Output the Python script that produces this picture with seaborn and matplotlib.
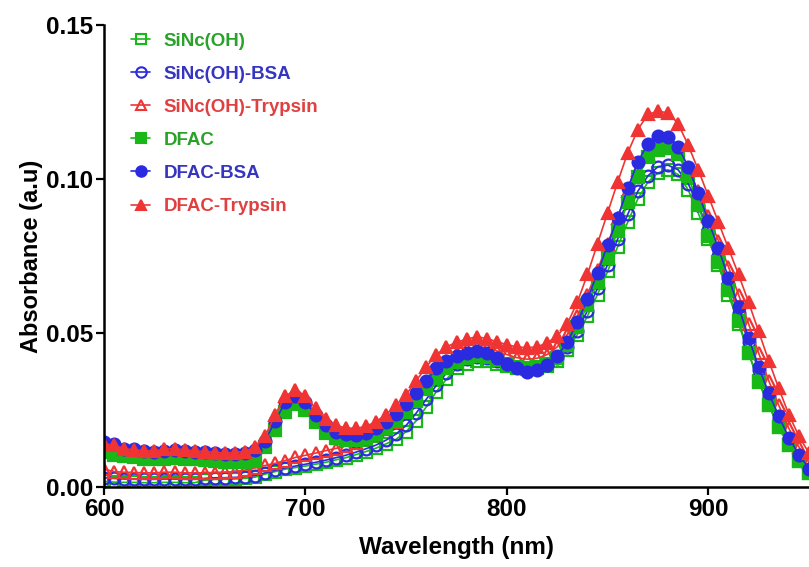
import numpy as np
import pandas as pd
import matplotlib
matplotlib.use("Agg")
import matplotlib.pyplot as plt
import seaborn as sns
from matplotlib.lines import Line2D

wavelength = list(range(600, 951, 5))

sinc_oh = [0.0018, 0.0016, 0.0015, 0.0015, 0.0014, 0.0014, 0.0015, 0.0015, 0.0014, 0.0014,
           0.0022, 0.0025, 0.0025, 0.0026, 0.0028, 0.0032, 0.0042, 0.0050, 0.0058, 0.0063,
           0.0068, 0.0074, 0.0080, 0.0088, 0.0095, 0.0105, 0.0115, 0.0126, 0.0140, 0.0155,
           0.0180, 0.0215, 0.0260, 0.0310, 0.0350, 0.0385, 0.0400, 0.0410, 0.0410, 0.0400,
           0.0392, 0.0385, 0.0382, 0.0385, 0.0392, 0.0410, 0.0445, 0.0495, 0.0555, 0.0625,
           0.0700, 0.0780, 0.0860, 0.0935, 0.0990, 0.1020, 0.1030, 0.1015, 0.0965, 0.0890,
           0.0805, 0.0720, 0.0625, 0.0530, 0.0435, 0.0345, 0.0265, 0.0195, 0.0135, 0.0085,
           0.0045]

sinc_oh_bsa = [0.0030, 0.0028, 0.0026, 0.0026, 0.0025, 0.0025, 0.0026, 0.0026, 0.0025, 0.0025,
               0.0028, 0.0030, 0.0030, 0.0031, 0.0033, 0.0037, 0.0046, 0.0054, 0.0062, 0.0068,
               0.0074, 0.0080, 0.0087, 0.0095, 0.0103, 0.0113, 0.0124, 0.0136, 0.0152, 0.0172,
               0.0200, 0.0240, 0.0285, 0.0330, 0.0370, 0.0400, 0.0415, 0.0422, 0.0420, 0.0410,
               0.0398, 0.0388, 0.0383, 0.0386, 0.0396, 0.0418, 0.0455, 0.0508, 0.0572, 0.0645,
               0.0722, 0.0805, 0.0885, 0.0960, 0.1010, 0.1040, 0.1045, 0.1030, 0.0985, 0.0915,
               0.0835, 0.0750, 0.0660, 0.0565, 0.0470, 0.0380, 0.0295, 0.0220, 0.0155, 0.0100,
               0.0055]

sinc_oh_trypsin = [0.0058, 0.0050, 0.0048, 0.0047, 0.0046, 0.0046, 0.0048, 0.0048, 0.0046, 0.0046,
                   0.0046, 0.0047, 0.0048, 0.0050, 0.0055, 0.0062, 0.0070, 0.0077, 0.0086, 0.0096,
                   0.0103, 0.0110, 0.0118, 0.0125, 0.0133, 0.0143, 0.0155, 0.0170, 0.0188, 0.0212,
                   0.0245, 0.0285, 0.0330, 0.0375, 0.0410, 0.0435, 0.0448, 0.0455, 0.0452, 0.0442,
                   0.0430, 0.0420, 0.0415, 0.0418, 0.0430, 0.0455, 0.0495, 0.0555, 0.0625, 0.0705,
                   0.0790, 0.0875, 0.0960, 0.1030, 0.1080, 0.1100, 0.1100, 0.1080, 0.1030, 0.0960,
                   0.0880, 0.0800, 0.0715, 0.0625, 0.0530, 0.0435, 0.0345, 0.0265, 0.0190, 0.0130,
                   0.0080]

dfac = [0.0115, 0.0105, 0.0100, 0.0098, 0.0092, 0.0090, 0.0092, 0.0093, 0.0092, 0.0090,
        0.0088, 0.0083, 0.0080, 0.0080, 0.0082, 0.0085, 0.0130, 0.0185, 0.0245, 0.0270,
        0.0250, 0.0210, 0.0176, 0.0160, 0.0153, 0.0153, 0.0160, 0.0172, 0.0190, 0.0215,
        0.0245, 0.0280, 0.0318, 0.0355, 0.0385, 0.0405, 0.0418, 0.0425, 0.0422, 0.0413,
        0.0400, 0.0390, 0.0385, 0.0388, 0.0398, 0.0420, 0.0460, 0.0520, 0.0590, 0.0665,
        0.0745, 0.0830, 0.0925, 0.1005, 0.1070, 0.1095, 0.1100, 0.1080, 0.1010, 0.0915,
        0.0815, 0.0730, 0.0640, 0.0540, 0.0435, 0.0340, 0.0265, 0.0195, 0.0135, 0.0085,
        0.0045]

dfac_bsa = [0.0146, 0.0138, 0.0125, 0.0122, 0.0118, 0.0115, 0.0117, 0.0120, 0.0118, 0.0115,
            0.0113, 0.0110, 0.0108, 0.0108, 0.0110, 0.0120, 0.0150, 0.0215, 0.0275, 0.0295,
            0.0275, 0.0235, 0.0200, 0.0180, 0.0172, 0.0170, 0.0176, 0.0190, 0.0210, 0.0238,
            0.0270, 0.0305, 0.0345, 0.0385, 0.0410, 0.0425, 0.0435, 0.0440, 0.0435, 0.0420,
            0.0400, 0.0385, 0.0375, 0.0380, 0.0395, 0.0425, 0.0470, 0.0535, 0.0610, 0.0695,
            0.0785, 0.0875, 0.0970, 0.1055, 0.1115, 0.1140, 0.1135, 0.1105, 0.1040, 0.0955,
            0.0865, 0.0775, 0.0680, 0.0585, 0.0485, 0.0390, 0.0305, 0.0230, 0.0160, 0.0105,
            0.0060]

dfac_trypsin = [0.0140, 0.0135, 0.0125, 0.0120, 0.0118, 0.0117, 0.0122, 0.0125, 0.0120, 0.0117,
                0.0115, 0.0112, 0.0110, 0.0112, 0.0115, 0.0130, 0.0165, 0.0235, 0.0295, 0.0315,
                0.0295, 0.0255, 0.0220, 0.0200, 0.0192, 0.0190, 0.0197, 0.0212, 0.0235, 0.0265,
                0.0300, 0.0345, 0.0390, 0.0430, 0.0455, 0.0470, 0.0480, 0.0488, 0.0482, 0.0472,
                0.0462, 0.0455, 0.0452, 0.0455, 0.0468, 0.0490, 0.0530, 0.0600, 0.0690, 0.0790,
                0.0890, 0.0990, 0.1085, 0.1160, 0.1210, 0.1220, 0.1215, 0.1180, 0.1110, 0.1030,
                0.0945, 0.0860, 0.0775, 0.0690, 0.0600, 0.0505, 0.0410, 0.0320, 0.0235, 0.0165,
                0.0110]

labels = ["SiNc(OH)", "SiNc(OH)-BSA", "SiNc(OH)-Trypsin", "DFAC", "DFAC-BSA", "DFAC-Trypsin"]
series = [sinc_oh, sinc_oh_bsa, sinc_oh_trypsin, dfac, dfac_bsa, dfac_trypsin]

GREEN = "#17b817"
BLUE = "#2a2ae0"
RED = "#f03434"
colors = [GREEN, BLUE, RED, GREEN, BLUE, RED]
text_colors = ["#2aa22a", "#3535c0", "#e04040", "#2aa22a", "#3535c0", "#e04040"]
markers = ["s", "o", "^", "s", "o", "^"]
filled = [False, False, False, True, True, True]

sns.set_style("ticks")
plt.rcParams["font.family"] = ["Liberation Sans", "DejaVu Sans"]
plt.rcParams["font.weight"] = "bold"
plt.rcParams["text.color"] = "black"
plt.rcParams["axes.labelcolor"] = "black"
plt.rcParams["xtick.color"] = "black"
plt.rcParams["ytick.color"] = "black"

fig = plt.figure(figsize=(8.09, 5.67), dpi=100)
ax = fig.add_axes([104 / 809, 80 / 567, 1 - 104 / 809, 462 / 567])

for lab, vals, col, mk, fl in zip(labels, series, colors, markers, filled):
    df = pd.DataFrame({"Wavelength": wavelength, "Absorbance": vals})
    sns.lineplot(data=df, x="Wavelength", y="Absorbance", ax=ax, color=col,
                 marker=mk, markersize=8.5 if mk != "^" else 9,
                 markerfacecolor=col if fl else "none", markeredgecolor=col,
                 markeredgewidth=1.6, linewidth=1.2, legend=False)

ax.set_xlim(600, 950)
ax.set_ylim(0, 0.15)
ax.set_xticks([600, 700, 800, 900])
ax.set_yticks([0.0, 0.05, 0.10, 0.15])
ax.set_yticklabels(["0.00", "0.05", "0.10", "0.15"])
for s in ["top", "right"]:
    ax.spines[s].set_visible(False)
for s in ["left", "bottom"]:
    ax.spines[s].set_linewidth(1.8)
    ax.spines[s].set_color("black")
ax.tick_params(axis="both", direction="out", length=6, width=1.6, colors="black",
               labelcolor="black", labelsize=17.5, pad=2)
for t in ax.get_xticklabels() + ax.get_yticklabels():
    t.set_fontweight("bold")
ax.set_xlabel("Wavelength (nm)", fontsize=17.5, fontweight="bold", labelpad=11, color="black")
ax.set_ylabel("Absorbance (a.u)", fontsize=17, fontweight="bold", labelpad=2, color="black")

handles = [Line2D([0], [0], color=c, marker=m, markersize=7.5,
                  markerfacecolor=c if f else "none", markeredgecolor=c,
                  markeredgewidth=1.5, linewidth=1.2)
           for c, m, f in zip(colors, markers, filled)]
ax.legend(handles, labels, loc="upper left", bbox_to_anchor=(0.015, 1.02),
          frameon=False, handlelength=1.0, handletextpad=0.7, labelspacing=0.85,
          prop={"weight": "bold", "size": 13.5}, labelcolor=text_colors)

fig.savefig("out.png", dpi=100)
